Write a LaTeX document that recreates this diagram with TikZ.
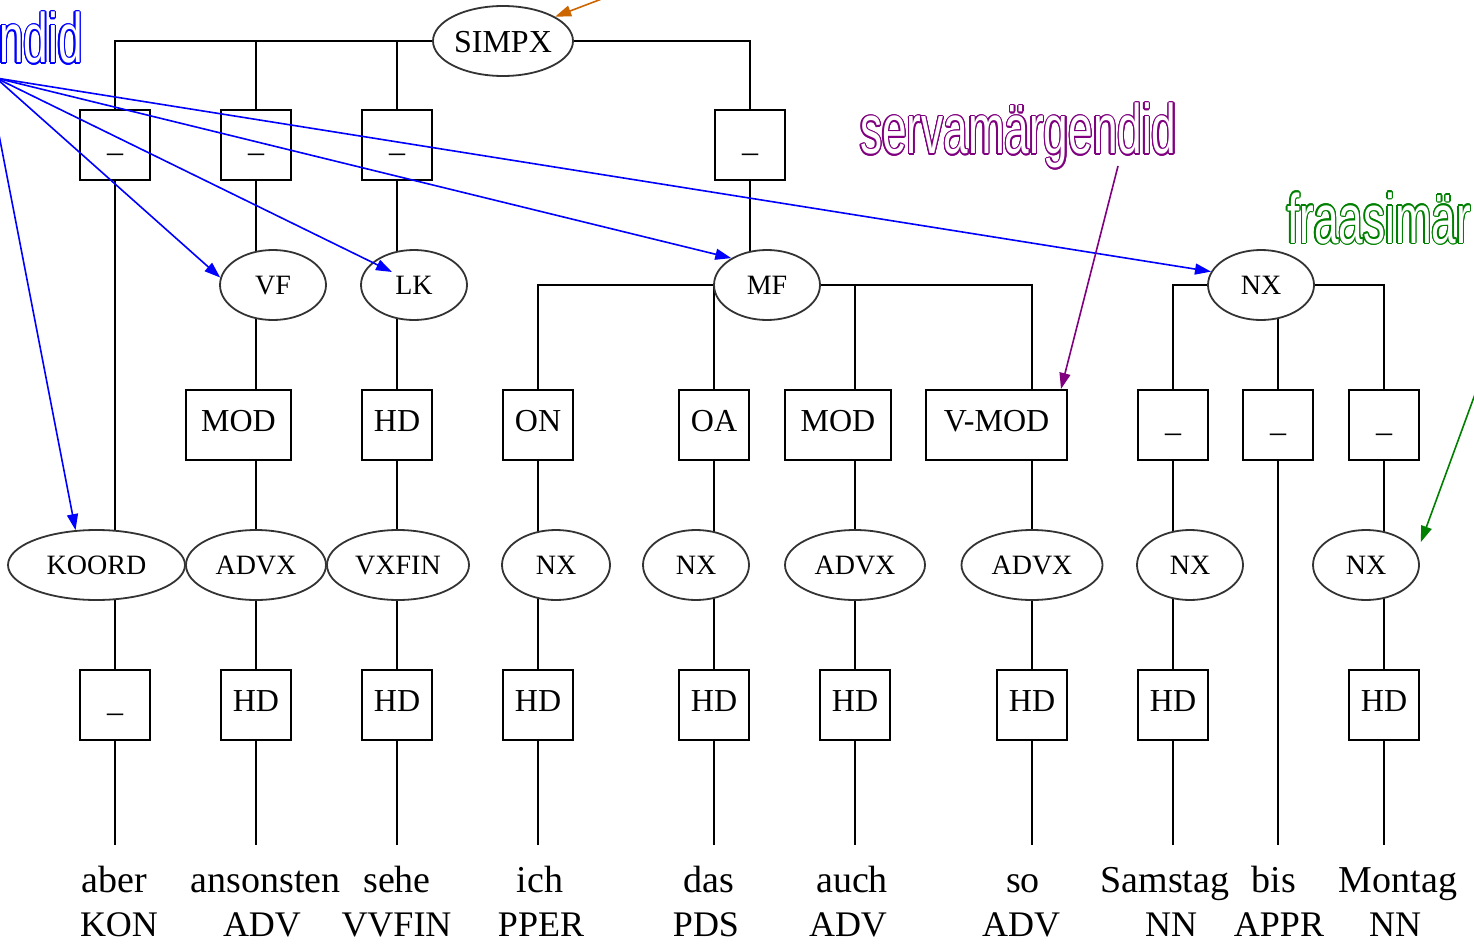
\documentclass[tikz,border=0pt]{standalone}
\usepackage{fontspec}
\setmainfont{Liberation Serif}
\newfontfamily\annfont[FakeStretch=0.63]{Liberation Sans}
\usetikzlibrary{arrows.meta,shapes.geometric,backgrounds,calc}
\definecolor{annblue}{RGB}{0,0,255}
\definecolor{annpurple}{RGB}{128,0,128}
\definecolor{anngreen}{RGB}{0,128,0}
\definecolor{annorange}{RGB}{204,102,0}
% hollow (outlined) text: coloured copies shifted around, white copy on top
\newcommand{\outlcopy}[3]{\rlap{\kern#1\raisebox{#2}{#3}}}
\newcommand{\hollow}[2]{{\color{#1}%
  \outlcopy{1.3pt}{0pt}{#2}\outlcopy{-1.3pt}{0pt}{#2}%
  \outlcopy{0pt}{1.3pt}{#2}\outlcopy{0pt}{-1.3pt}{#2}%
  \outlcopy{0.92pt}{0.92pt}{#2}\outlcopy{-0.92pt}{0.92pt}{#2}%
  \outlcopy{0.92pt}{-0.92pt}{#2}\outlcopy{-0.92pt}{-0.92pt}{#2}%
  \outlcopy{0.5pt}{1.2pt}{#2}\outlcopy{-0.5pt}{1.2pt}{#2}%
  \outlcopy{0.5pt}{-1.2pt}{#2}\outlcopy{-0.5pt}{-1.2pt}{#2}%
  \outlcopy{1.2pt}{0.5pt}{#2}\outlcopy{-1.2pt}{0.5pt}{#2}%
  \outlcopy{1.2pt}{-0.5pt}{#2}\outlcopy{-1.2pt}{-0.5pt}{#2}}%
  {\color{white}#2}}
\begin{document}
\begin{tikzpicture}[x=1pt,y=-1pt,
  lbox/.style={draw,line width=2pt,fill=white,minimum height=70pt,minimum width=70pt,inner sep=0pt,
    font=\fontsize{32}{34}\selectfont,text height=18pt,text depth=5pt},
  cat/.style={ellipse,draw=black!80,line width=1.8pt,fill=white,minimum height=70pt,inner sep=0pt,
    font=\fontsize{28}{30}\selectfont,text height=20pt,text depth=1pt},
  word/.style={anchor=base,font=\fontsize{38}{40}\selectfont,text height=27pt,text depth=0pt,inner ysep=20pt,inner xsep=0pt},
  postag/.style={anchor=base,font=\fontsize{36}{38}\selectfont,inner sep=0pt},
  tree/.style={line width=2pt},
  ann/.style={line width=1.6pt,-{Triangle[length=16pt,width=11pt]}},
  anntext/.style={inner sep=0pt,anchor=base west,font=\annfont\fontsize{70}{72}\selectfont},
]
\useasboundingbox (0,0) rectangle (1474,944);

% level 0
\node[cat,minimum width=140pt,font=\fontsize{32}{34}\selectfont,text height=24pt,text depth=0pt] (simpx) at (503,41) {SIMPX};
% level 1 boxes
\node[lbox] (t1) at (115,145) {\_};
\node[lbox] (t2) at (256,145) {\_};
\node[lbox] (t3) at (397,145) {\_};
\node[lbox] (t4) at (750,145) {\_};
% level 2 ellipses
\node[cat,minimum width=106pt] (vf) at (273,285) {VF};
\node[cat,minimum width=106pt] (lk) at (414,285) {LK};
\node[cat,minimum width=106pt] (mf) at (767,285) {MF};
\node[cat,minimum width=106pt] (nxa) at (1261,285) {NX};
% level 3 boxes
\node[lbox,minimum width=105pt] (mod1) at (238.5,425) {MOD};
\node[lbox] (hd1) at (397,425) {HD};
\node[lbox] (on) at (538,425) {ON};
\node[lbox] (oa) at (714,425) {OA};
\node[lbox,minimum width=106pt] (mod2) at (838,425) {MOD};
\node[lbox,minimum width=141pt] (vmod) at (996.5,425) {V-MOD};
\node[lbox] (u1) at (1173,425) {\_};
\node[lbox] (u2) at (1278,425) {\_};
\node[lbox] (u3) at (1384,425) {\_};
% level 4 ellipses
\node[cat,minimum width=177pt] (koord) at (96.5,565) {KOORD};
\node[cat,minimum width=140pt] (advx1) at (256,565) {ADVX};
\node[cat,minimum width=142pt] (vxfin) at (398,565) {VXFIN};
\node[cat,minimum width=108pt] (nx1) at (556,565) {NX};
\node[cat,minimum width=106pt] (nx2) at (696,565) {NX};
\node[cat,minimum width=140pt] (advx2) at (855,565) {ADVX};
\node[cat,minimum width=141pt] (advx3) at (1032,565) {ADVX};
\node[cat,minimum width=106pt] (nx3) at (1190,565) {NX};
\node[cat,minimum width=106pt] (nx4) at (1366,565) {NX};
% level 5 boxes
\node[lbox] (h1) at (115,705) {\_};
\node[lbox] (h2) at (256,705) {HD};
\node[lbox] (h3) at (397,705) {HD};
\node[lbox] (h4) at (538,705) {HD};
\node[lbox] (h5) at (714,705) {HD};
\node[lbox] (h6) at (855,705) {HD};
\node[lbox] (h7) at (1032,705) {HD};
\node[lbox] (h8) at (1173,705) {HD};
\node[lbox] (h10) at (1384,705) {HD};
% words
\node[word] (w1) at (114,892) {aber};
\node[word] (w2) at (265.5,892) {ansonsten};
\node[word] (w3) at (397,892) {sehe};
\node[word] (w4) at (540,892) {ich};
\node[word] (w5) at (709,892) {das};
\node[word] (w6) at (852,892) {auch};
\node[word] (w7) at (1023,892) {so};
\node[word] (w8) at (1165,892) {Samstag};
\node[word] (w9) at (1274,892) {bis};
\node[word] (w10) at (1398,892) {Montag};
% POS tags
\node[postag] (p1) at (119,936) {KON};
\node[postag] (p2) at (262,936) {ADV};
\node[postag] (p3) at (396.5,936) {VVFIN};
\node[postag] (p4) at (541,936) {PPER};
\node[postag] (p5) at (706,936) {PDS};
\node[postag] (p6) at (848,936) {ADV};
\node[postag] (p7) at (1021,936) {ADV};
\node[postag] (p8) at (1171,936) {NN};
\node[postag] (p9) at (1279,936) {APPR};
\node[postag] (p10) at (1395,936) {NN};

\begin{pgfonlayer}{background}
  \fill[white] (0,0) rectangle (1474,944);
  % SIMPX
  \draw[tree] (t1.center) |- (simpx.center);
  \draw[tree] (t2.center) |- (simpx.center);
  \draw[tree] (t3.center) |- (simpx.center);
  \draw[tree] (simpx.center) -| (t4.center);
  % column 1
  \draw[tree] (t1.center) -- (t1 |- koord.center);
  \draw[tree] (t1 |- koord.center) -- (h1.center);
  \draw[tree] (h1.center) -- (h1 |- w1.north);
  % column 2
  \draw[tree] (t2.center) -- (t2 |- vf.center);
  \draw[tree] (t2 |- vf.center) -- (t2 |- mod1.center);
  \draw[tree] (t2 |- mod1.center) -- (advx1.center);
  \draw[tree] (advx1.center) -- (h2.center);
  \draw[tree] (h2.center) -- (h2 |- w2.north);
  % column 3
  \draw[tree] (t3.center) -- (t3 |- lk.center);
  \draw[tree] (t3 |- lk.center) -- (hd1.center);
  \draw[tree] (hd1.center) -- (hd1 |- vxfin.center);
  \draw[tree] (hd1 |- vxfin.center) -- (h3.center);
  \draw[tree] (h3.center) -- (h3 |- w3.north);
  % MF
  \draw[tree] (t4.center) -- (t4 |- mf.center);
  \draw[tree] (on.center) |- (mf.center);
  \draw[tree] (mf.center) -| (advx3 |- vmod.center);
  \draw[tree] (oa |- mf.center) -- (oa.center);
  \draw[tree] (advx2 |- mf.center) -- (advx2 |- mod2.center);
  % column 4
  \draw[tree] (on.center) -- (on |- nx1.center);
  \draw[tree] (on |- nx1.center) -- (h4.center);
  \draw[tree] (h4.center) -- (h4 |- w4.north);
  % column 5
  \draw[tree] (oa.center) -- (oa |- nx2.center);
  \draw[tree] (oa |- nx2.center) -- (h5.center);
  \draw[tree] (h5.center) -- (h5 |- w5.north);
  % column 6
  \draw[tree] (advx2 |- mod2.center) -- (advx2.center);
  \draw[tree] (advx2.center) -- (h6.center);
  \draw[tree] (h6.center) -- (h6 |- w6.north);
  % column 7
  \draw[tree] (advx3 |- vmod.center) -- (advx3.center);
  \draw[tree] (advx3.center) -- (h7.center);
  \draw[tree] (h7.center) -- (h7 |- w7.north);
  % NX
  \draw[tree] (u1.center) |- (nxa.center);
  \draw[tree] (nxa.center) -| (u3.center);
  \draw[tree] (u2 |- nxa.center) -- (u2.center);
  % column 8
  \draw[tree] (u1.center) -- (u1 |- nx3.center);
  \draw[tree] (u1 |- nx3.center) -- (h8.center);
  \draw[tree] (h8.center) -- (h8 |- w8.north);
  % column 9
  \draw[tree] (u2.center) -- (u2 |- w9.north);
  % column 10
  \draw[tree] (u3.center) -- (u3 |- nx4.center);
  \draw[tree] (u3 |- nx4.center) -- (h10.center);
  \draw[tree] (h10.center) -- (h10 |- w10.north);
\end{pgfonlayer}

\begin{scope}
  \clip (0,0) rectangle (1474,944);
  % annotation labels
  \node[anntext] (lblA) at (-1,63) {\hollow{annblue}{ndid}};
  \node[anntext] (lblP) at (860,154) {\hollow{annpurple}{servamärgendid}};
  \node[anntext] (lblG) at (1287,243) {\hollow{anngreen}{fraasimär}};
  % annotation arrow sources
  \coordinate (annA) at (-4,78);
  \coordinate (annB) at (-12,78);
  \coordinate (annP) at (1118,166);
  \coordinate (annG) at (1489,356);
  \coordinate (annO) at (620,-8);
  % arrows
  \draw[ann,draw=annblue,fill=annblue] (annB) -- (koord.121);
  \draw[ann,draw=annblue,fill=annblue] (annA) -- (vf.172);
  \draw[ann,draw=annblue,fill=annblue] (annA) -- ($(lk.center)+(-22,-13)$);
  \draw[ann,draw=annblue,fill=annblue] (annA) -- (mf.143);
  \draw[ann,draw=annblue,fill=annblue] (annA) -- (nxa.165);
  \draw[ann,draw=annpurple,fill=annpurple] (annP) -- ($(vmod.north east)+(-7,0)$);
  \draw[ann,draw=anngreen,fill=anngreen] (annG) -- ($(nx4.east)+(1,-23)$);
  \draw[ann,draw=annorange,fill=annorange] (annO) -- (simpx.25);
\end{scope}
\end{tikzpicture}
\end{document}
